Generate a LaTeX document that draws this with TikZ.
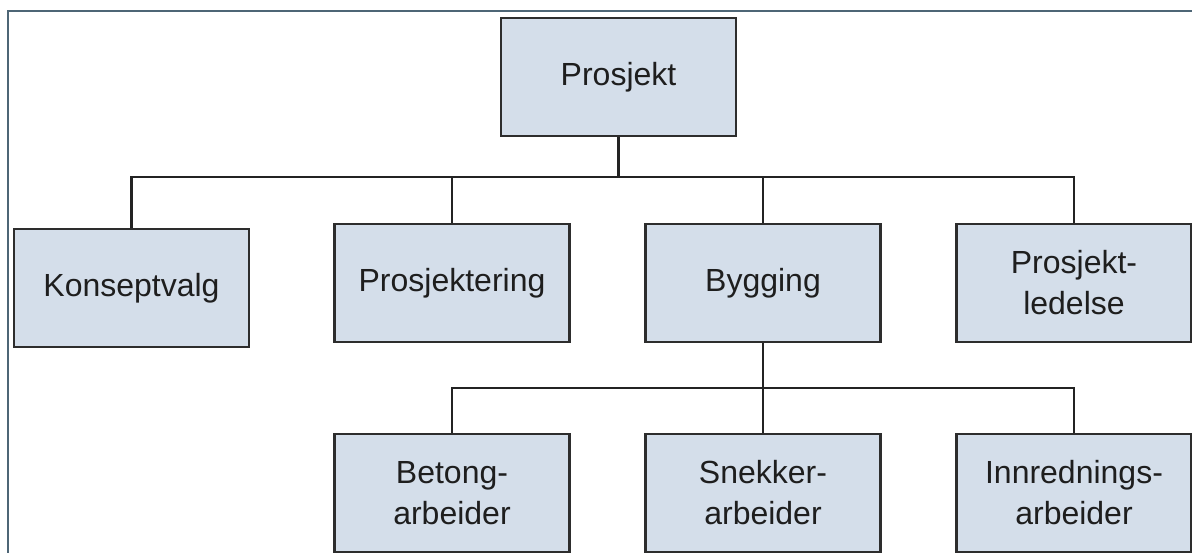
\documentclass[tikz,border=0pt]{standalone}
\usepackage{fontspec}
\setmainfont{Liberation Sans}
\definecolor{boxfill}{RGB}{212,222,234}
\definecolor{boxline}{RGB}{45,45,45}
\definecolor{conline}{RGB}{35,35,35}
\definecolor{framecol}{RGB}{78,102,118}
\definecolor{txt}{RGB}{30,30,30}
\begin{document}
\begin{tikzpicture}[x=1pt,y=-1pt,
  box/.style={draw=boxline, fill=boxfill, line width=2.6pt, minimum width=235pt,
    minimum height=118pt, inner sep=0pt, align=center,
    font=\fontsize{32}{41}\selectfont, text=txt},
  conn/.style={draw=conline, line width=2.4pt, line join=miter},
  frameline/.style={draw=framecol, line width=2pt}]
\useasboundingbox (0,0) rectangle (1192,552);
\clip (0,0) rectangle (1192,552);
\draw[frameline] (7.5,11) rectangle (1260,640);

\node[box] (p)  at (618.5,77) {Prosjekt};
\node[box] (k)  at (131.5,288) {Konseptvalg};
\node[box] (pr) at (452,283) {Prosjektering};
\node[box] (b)  at (763,283) {Bygging};
\node[box] (pl) at (1074,283) {Prosjekt-\\ledelse};
\node[box] (be) at (452,493) {Betong-\\arbeider};
\node[box] (sn) at (763,493) {Snekker-\\arbeider};
\node[box] (in) at (1074,493) {Innrednings-\\arbeider};

\coordinate (bus1) at (618.5,177);
\coordinate (bus2) at (763,388);

\draw[conn] (p.south) -- (bus1) -| (k.north);
\draw[conn] (bus1) -| (pr.north);
\draw[conn] (bus1) -| (b.north);
\draw[conn] (bus1) -| (pl.north);
\draw[conn] (b.south) -- (bus2) -| (be.north);
\draw[conn] (bus2) -- (sn.north);
\draw[conn] (bus2) -| (in.north);
\end{tikzpicture}
\end{document}
